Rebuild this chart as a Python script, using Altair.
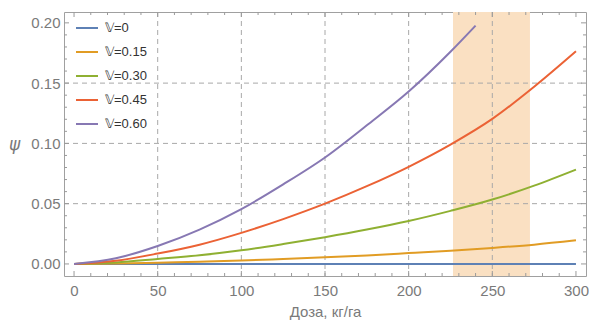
import altair as alt
import pandas as pd

dose = [0, 25, 50, 75, 100, 125, 150, 175, 200, 225, 250, 275, 300]
v0 = [0, 0, 0, 0, 0, 0, 0, 0, 0, 0, 0, 0, 0]
v015 = [0, 0.0003, 0.0010, 0.0018, 0.0028, 0.0041, 0.0055, 0.0071, 0.0090, 0.0110, 0.0133, 0.0160, 0.0196]
v030 = [0, 0.0012, 0.0041, 0.0072, 0.0113, 0.0165, 0.0222, 0.0285, 0.0356, 0.0440, 0.0534, 0.0650, 0.0783]
v045 = [0, 0.0026, 0.0086, 0.0160, 0.0258, 0.0372, 0.0500, 0.0645, 0.0806, 0.0990, 0.1203, 0.1470, 0.1764]
dose_060 = [0, 25, 50, 75, 100, 125, 150, 175, 200, 225, 240]
v060 = [0, 0.0047, 0.0149, 0.0285, 0.0455, 0.0660, 0.0883, 0.1150, 0.1430, 0.1760, 0.1977]

series_names = ["𝕍=0", "𝕍=0.15", "𝕍=0.30", "𝕍=0.45", "𝕍=0.60"]
colors = ["#5E81B5", "#E19C24", "#8FB032", "#EB6235", "#8778B3"]

band_start = [226.5]
band_end = [272.5]

x_major = [0, 50, 100, 150, 200, 250, 300]
x_minor = [v for v in range(0, 310, 10) if v % 50 != 0]
y_major = [0.0, 0.05, 0.10, 0.15, 0.20]
y_minor = [round(i * 0.01, 2) for i in range(-0, 21) if i % 5 != 0]
x_grid = [50, 100, 150, 200, 250]
y_grid = [0.05, 0.10, 0.15]

rows = []
for name, xs_, ys_ in [
    (series_names[0], dose, v0),
    (series_names[1], dose, v015),
    (series_names[2], dose, v030),
    (series_names[3], dose, v045),
    (series_names[4], dose_060, v060),
]:
    for xv, yv in zip(xs_, ys_):
        rows.append({"dose": xv, "psi": yv, "series": name})
df = pd.DataFrame(rows)
band = pd.DataFrame({"x1": band_start, "x2": band_end})

W, H = 522, 264
XD = [-6, 306]
YD = [-0.01, 0.209]
FONT = "Liberation Sans"
GRAY = "#7a7a7a"
TICK = "#9a9a9a"
GRID = "#a8a8a8"

xs = alt.Scale(domain=XD, nice=False, zero=False)
ys = alt.Scale(domain=YD, nice=False, zero=False)

XAXIS = alt.Axis(
    values=x_major, ticks=False, domain=False, grid=False,
    title="Доза, кг/га", titleFont=FONT, titleFontSize=15, titleFontWeight="normal",
    titleColor=GRAY, titlePadding=6, labelFont=FONT, labelFontSize=15,
    labelColor=GRAY, labelPadding=7)
YAXIS = alt.Axis(
    values=y_major, ticks=False, domain=False, grid=False, format=".2f",
    title="ψ", titleFont="DejaVu Sans", titleFontSize=17, titleFontStyle="italic",
    titleFontWeight="normal", titleColor=GRAY, titleAngle=0, titleAlign="center",
    titleBaseline="middle", titleX=-50, titleY=132,
    labelFont=FONT, labelFontSize=15, labelColor=GRAY, labelPadding=4)


def xenc(field):
    return alt.X(field, type="quantitative", scale=xs, axis=XAXIS)


def yenc(field):
    return alt.Y(field, type="quantitative", scale=ys, axis=YAXIS)


shade = alt.Chart(band).mark_rect(color="#FAE0C2").encode(
    x=xenc("x1"), x2="x2", y=alt.value(0), y2=alt.value(H))

xgrid = alt.Chart(pd.DataFrame({"v": x_grid})).mark_rule(color=GRID, strokeDash=[5, 4], strokeWidth=1).encode(
    x=xenc("v"), y=alt.value(0), y2=alt.value(H))
ygrid = alt.Chart(pd.DataFrame({"v": y_grid})).mark_rule(color=GRID, strokeDash=[5, 4], strokeWidth=1).encode(
    y=yenc("v"), x=alt.value(0), x2=alt.value(W))

tick_layers = []
for vals, size in [(x_major, 5), (x_minor, 3)]:
    d = pd.DataFrame({"v": vals})
    tick_layers.append(alt.Chart(d).mark_rule(color=TICK, strokeWidth=1).encode(
        x=xenc("v"), y=alt.value(H), y2=alt.value(H - size)))
    tick_layers.append(alt.Chart(d).mark_rule(color=TICK, strokeWidth=1).encode(
        x=xenc("v"), y=alt.value(0), y2=alt.value(size)))
for vals, size in [(y_major, 5), (y_minor, 3)]:
    d = pd.DataFrame({"v": vals})
    tick_layers.append(alt.Chart(d).mark_rule(color=TICK, strokeWidth=1).encode(
        y=yenc("v"), x=alt.value(0), x2=alt.value(size)))
    tick_layers.append(alt.Chart(d).mark_rule(color=TICK, strokeWidth=1).encode(
        y=yenc("v"), x=alt.value(W), x2=alt.value(W - size)))

lines = alt.Chart(df).mark_line(strokeWidth=2, interpolate="monotone").encode(
    x=xenc("dose"),
    y=yenc("psi"),
    color=alt.Color(
        "series:N",
        scale=alt.Scale(domain=series_names, range=colors),
        sort=series_names,
        legend=alt.Legend(
            title=None, orient="none", legendX=11, legendY=4,
            symbolType="stroke", symbolStrokeWidth=2, symbolSize=484,
            labelFont=FONT, labelFontSize=13, labelColor="#333333",
            rowPadding=5, labelOffset=6,
        ),
    ),
)

chart = alt.layer(shade, xgrid, ygrid, *tick_layers, lines).properties(
    width=W, height=H,
    autosize=alt.AutoSizeParams(type="none"),
    padding={"left": 56, "top": 4, "right": 3, "bottom": 47},
).configure_view(stroke="#a0a0a0", strokeWidth=1)

chart.save("out.html", embed_options={"renderer": "svg", "actions": False})
